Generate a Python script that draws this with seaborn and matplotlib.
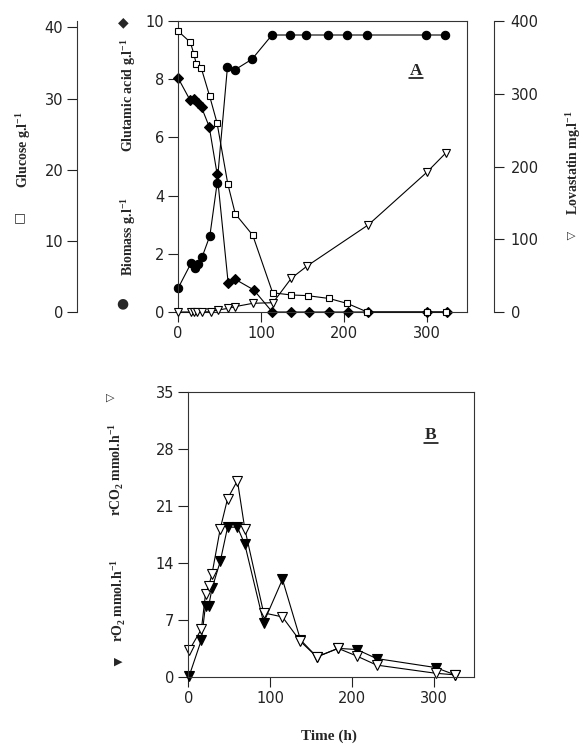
import matplotlib
matplotlib.use("Agg")
import matplotlib.pyplot as plt
import seaborn as sns

# --- Panel A: fermentation time course ---
glucose_t = [0, 15, 19, 22, 28, 38, 47, 60, 69, 90, 114, 136, 156, 182, 204, 228, 300, 323]
glucose = [39.5, 37.9, 36.3, 34.9, 34.3, 30.4, 26.6, 18.0, 13.8, 10.8, 2.7, 2.4, 2.3, 1.9, 1.2, 0, 0, 0]

biomass_t = [0, 15.6, 20.4, 24.4, 29.2, 38.4, 47.2, 59.6, 68.4, 89.2, 113.2, 135.3, 154.5, 180.4, 203.2, 227.2, 298.5, 321.7]
biomass = [0.81, 1.67, 1.52, 1.64, 1.90, 2.62, 4.44, 8.43, 8.32, 8.69, 9.52, 9.52, 9.52, 9.52, 9.52, 9.52, 9.52, 9.52]

glutamic_t = [0, 14.4, 19.6, 24.4, 28.4, 37.6, 47.2, 60.4, 69.2, 91.2, 113.6, 135.6, 157.3, 181.6, 204.4, 228.5, 299.6, 323.6]
glutamic = [8.05, 7.29, 7.32, 7.19, 7.03, 6.37, 4.73, 1.01, 1.12, 0.76, 0, 0, 0, 0, 0, 0, 0, 0]

lova_t = [0, 15.2, 19.2, 23.2, 28.4, 39.2, 48.4, 60.4, 68.4, 90.4, 114.4, 136.5, 155.7, 229.3, 299.6, 322.6]
lovastatin = [0, 0, 0, 0, 0, 0.4, 2.8, 5.0, 7.3, 12.0, 12.8, 46.4, 63.4, 119.9, 192, 218.7]

# --- Panel B: gas exchange rates ---
rate_t = [1, 16, 21, 25, 29, 39, 48, 60, 69, 92, 115, 137, 157, 183, 206, 230, 302, 326]
rco2 = [3.3, 5.9, 10.2, 11.2, 12.7, 18.2, 21.9, 24.1, 18.2, 7.9, 7.4, 4.4, 2.5, 3.55, 2.6, 1.5, 0.5, 0.3]
ro2 = [0.15, 4.6, 8.8, 8.8, 10.9, 14.2, 18.4, 18.4, 16.3, 6.7, 12.0, 4.6, 2.5, 3.55, 3.4, 2.3, 1.2, 0.3]

sns.set_style("ticks")
plt.rcParams['font.family'] = ['DejaVu Sans']
plt.rcParams['axes.linewidth'] = 0.8
plt.rcParams['axes.edgecolor'] = '#333333'
plt.rcParams['mathtext.fontset'] = 'custom'
plt.rcParams['mathtext.bf'] = 'Liberation Serif:bold'
plt.rcParams['mathtext.rm'] = 'Liberation Serif'

TICK = dict(direction='out', length=7, width=0.8, labelsize=10.5, colors='#222222')
SERIF = dict(family='Liberation Serif', weight='bold', fontsize=10)
PANEL = dict(family='Liberation Serif', weight='bold', fontsize=12.5)


def draw(ax, t, v, marker, face, ms):
    sns.lineplot(x=t, y=v, ax=ax, color='black', lw=0.8, marker=marker, markersize=ms,
                 markerfacecolor=face, markeredgecolor='black', markeredgewidth=0.8,
                 estimator=None, sort=False, legend=False, clip_on=False)


fig = plt.figure(figsize=(5.87, 7.54), dpi=100)

# ---------- panel A ----------
ax = fig.add_axes([0.3032, 0.5862, 0.4923, 0.3859])
ax_g = ax.twinx()
ax_l = ax.twinx()

draw(ax, biomass_t, biomass, 'o', 'black', 6)
draw(ax, glutamic_t, glutamic, 'D', 'black', 5.5)
draw(ax_g, glucose_t, glucose, 's', 'white', 5)
draw(ax_l, lova_t, lovastatin, 'v', 'white', 6)

ax.set_xlim(0, 348)
ax.set_ylim(0, 10)
ax.set_xticks([0, 100, 200, 300])
ax.set_yticks([0, 2, 4, 6, 8, 10])
ax.tick_params(axis='both', pad=3, **TICK)
ax.tick_params(right=False, top=False)
ax.set_xlabel('')
ax.set_ylabel('')

ax_g.set_ylim(0, 40.9)
ax_g.set_yticks([0, 10, 20, 30, 40])
ax_g.yaxis.set_ticks_position('left')
ax_g.spines['left'].set_position(('axes', -0.349))
ax_g.spines['left'].set_visible(True)
for s in ['right', 'top', 'bottom']:
    ax_g.spines[s].set_visible(False)
ax_g.tick_params(axis='y', pad=3, **TICK)
ax_g.set_ylabel('')

ax_l.set_ylim(0, 400)
ax_l.set_yticks([0, 100, 200, 300, 400])
ax_l.spines['right'].set_position(('axes', 1.093))
for s in ['left', 'top', 'bottom']:
    ax_l.spines[s].set_visible(False)
ax_l.tick_params(axis='y', pad=5, **TICK)
ax_l.set_ylabel('')

ax.text(0.824, 0.814, 'A', transform=ax.transAxes, ha='center', va='baseline', **PANEL)
ax.plot([0.799, 0.849], [0.805, 0.805], transform=ax.transAxes, color='black', lw=1.1)

# ---------- panel B ----------
bx = fig.add_axes([0.3208, 0.1017, 0.4867, 0.3788])
draw(bx, rate_t, ro2, 'v', 'black', 6.5)
draw(bx, rate_t, rco2, 'v', 'white', 6.5)
bx.set_xlim(0, 349)
bx.set_ylim(0, 35)
bx.set_xticks([0, 100, 200, 300])
bx.set_yticks([0, 7, 14, 21, 28, 35])
bx.tick_params(axis='both', pad=3, **TICK)
bx.set_xlabel('')
bx.set_ylabel('')
bx.text(0.849, 0.833, 'B', transform=bx.transAxes, ha='center', va='baseline', **PANEL)
bx.plot([0.825, 0.873], [0.822, 0.822], transform=bx.transAxes, color='black', lw=1.1)

# ---------- axis titles with symbol keys ----------
fig.text(0.039, 0.801, 'Glucose g.l$^{\\mathbf{-1}}$', rotation=90, ha='center', va='center', **SERIF)
fig.text(0.034, 0.711, '\u25a1', ha='center', va='center', fontsize=9, family='DejaVu Sans')

fig.text(0.218, 0.874, 'Glutamic acid g.l$^{\\mathbf{-1}}$', rotation=90, ha='center', va='center', **SERIF)
fig.text(0.2095, 0.971, '\u25c6', ha='center', va='center', fontsize=10, family='DejaVu Sans')

fig.text(0.218, 0.686, 'Biomass g.l$^{\\mathbf{-1}}$', rotation=90, ha='center', va='center', **SERIF)
fig.text(0.208, 0.598, '\u25cf', ha='center', va='center', fontsize=10, family='DejaVu Sans')

fig.text(0.976, 0.784, 'Lovastatin mg.l$^{\\mathbf{-1}}$', rotation=90, ha='center', va='center', **SERIF)
fig.text(0.974, 0.687, '\u25b7', ha='center', va='center', fontsize=8, family='DejaVu Sans')

fig.text(0.196, 0.377, 'rCO$_\\mathbf{2}$ mmol.h$^{\\mathbf{-1}}$', rotation=90, ha='center', va='center', **SERIF)
fig.text(0.187, 0.472, '\u25b7', ha='center', va='center', fontsize=8, family='DejaVu Sans')

fig.text(0.201, 0.204, 'rO$_\\mathbf{2}$ mmol.h$^{\\mathbf{-1}}$', rotation=90, ha='center', va='center', **SERIF)
fig.text(0.201, 0.123, '\u25b6', ha='center', va='center', fontsize=8, family='DejaVu Sans')

fig.text(0.560, 0.024, 'Time (h)', ha='center', va='center', family='Liberation Serif',
         weight='bold', fontsize=11)

fig.savefig('out.png', dpi=100)
